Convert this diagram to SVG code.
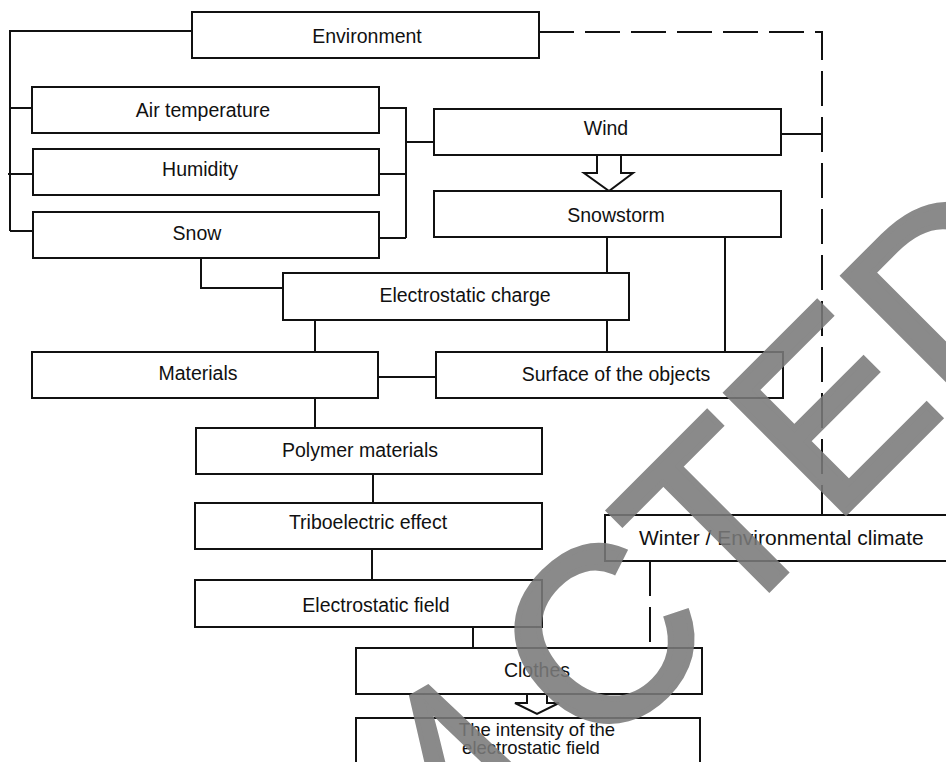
<svg xmlns="http://www.w3.org/2000/svg" width="946" height="762" viewBox="0 0 946 762">
<style>
.box{fill:#fff;stroke:#111;stroke-width:2}
.lbl{font-family:"Liberation Sans",Arial,sans-serif;font-size:19.5px;fill:#111;text-anchor:middle}
.ln{fill:none;stroke:#111;stroke-width:2}
.dash{fill:none;stroke:#111;stroke-width:2;stroke-dasharray:35 11}
.harrow{fill:#fff;stroke:#111;stroke-width:2;stroke-linejoin:miter}
.stamp{font-family:"Liberation Sans",Arial,sans-serif;font-size:245px;fill:#7a7a7a;stroke:#7a7a7a;stroke-width:6;stroke-linejoin:miter;opacity:0.88;letter-spacing:2px}
</style>
<rect width="946" height="762" fill="#fff"/>
<g id="connectors">
<path class="ln" d="M192,31 H10 V231 M10,108 H32 M8,174 H33 M10,231 H33"/>
<path class="ln" d="M379,108 H406 V238 M379,174 H406 M379,238 H406 M406,142 H434"/>
<path class="dash" d="M539,32 H822 V515"/>
<path class="ln" d="M781,134 H822"/>
<path class="dash" d="M650,561 V648"/>
<path class="ln" d="M607,237 V352 M725,237 V352"/>
<path class="ln" d="M201,258 V288 H283"/>
<path class="ln" d="M315,320 V352 M378,377 H436 M315,398 V428 M373,474 V503 M372,549 V580 M473,627 V648"/>
<polygon class="harrow" points="597,155 597,173 584,173 609,191 633,173 621,173 621,155"/>
<polygon class="harrow" points="527,694 527,703 515,703 537,714 559,703 547,703 547,694"/>
</g>
<g id="environment"><rect class="box" x="192" y="12" width="347" height="46"/><text class="lbl" x="367" y="43">Environment</text></g>
<g id="air-temperature"><rect class="box" x="32" y="87" width="347" height="46"/><text class="lbl" x="203" y="117">Air temperature</text></g>
<g id="humidity"><rect class="box" x="33" y="149" width="346" height="46"/><text class="lbl" x="200" y="176">Humidity</text></g>
<g id="snow"><rect class="box" x="33" y="212" width="346" height="46"/><text class="lbl" x="197" y="240">Snow</text></g>
<g id="wind"><rect class="box" x="434" y="109" width="347" height="46"/><text class="lbl" x="606" y="135">Wind</text></g>
<g id="snowstorm"><rect class="box" x="434" y="191" width="347" height="46"/><text class="lbl" x="616" y="222">Snowstorm</text></g>
<g id="electrostatic-charge"><rect class="box" x="283" y="273" width="346" height="47"/><text class="lbl" x="465" y="302">Electrostatic charge</text></g>
<g id="materials"><rect class="box" x="32" y="352" width="346" height="46"/><text class="lbl" x="198" y="380">Materials</text></g>
<g id="surface"><rect class="box" x="436" y="352" width="347" height="46"/><text class="lbl" x="616" y="381">Surface of the objects</text></g>
<g id="polymer-materials"><rect class="box" x="196" y="428" width="346" height="46"/><text class="lbl" x="360" y="457">Polymer materials</text></g>
<g id="triboelectric-effect"><rect class="box" x="195" y="503" width="347" height="46"/><text class="lbl" x="368" y="529">Triboelectric effect</text></g>
<g id="electrostatic-field"><rect class="box" x="195" y="580" width="347" height="47"/><text class="lbl" x="376" y="612">Electrostatic field</text></g>
<g id="winter"><rect class="box" x="605" y="515" width="360" height="46"/><text class="lbl" x="639" y="545" style="text-anchor:start;font-size:21px">Winter / Environmental climate</text></g>
<g id="clothes"><rect class="box" x="356" y="648" width="346" height="46"/><text class="lbl" x="537" y="677">Clothes</text></g>
<g id="intensity"><rect class="box" x="356" y="718" width="344" height="60"/><text class="lbl" x="537" y="736" style="font-size:18.5px">The intensity of the</text><text class="lbl" x="531" y="754" style="font-size:18.5px">electrostatic field</text></g>
<g id="redaction-stamp">
<text class="stamp" transform="translate(451,869) rotate(-30) scale(0.75,1)">A</text>
<text class="stamp" transform="translate(598,760) rotate(-45)">CTED</text>
</g>
</svg>
